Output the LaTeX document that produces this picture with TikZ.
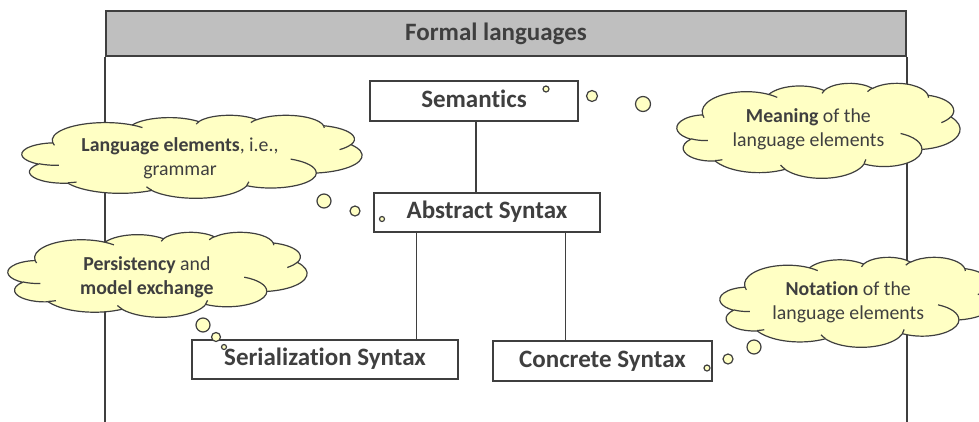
\documentclass[tikz,border=0pt]{standalone}
\usepackage{fontspec}
\setmainfont{Carlito}[Ligatures={NoCommon,NoDiscretionary}]
\definecolor{ink}{HTML}{3F3F3F}
\definecolor{thought}{HTML}{FFFFC4}
\definecolor{band}{HTML}{BFBFBF}

% parametric start angle and sweep of an elliptic arc given by visual angles
\newcommand\cloudangles[4]{%
  \pgfmathparse{atan2((#1)*sin(#3),(#2)*cos(#3))}\xdef\cloudts{\pgfmathresult}%
  \pgfmathparse{atan2((#1)*sin((#3)+(#4)),(#2)*cos((#3)+(#4)))}\xdef\cloudte{\pgfmathresult}%
  \pgfmathparse{\cloudte-\cloudts}\xdef\clouddl{\pgfmathresult}%
  \pgfmathparse{\clouddl+360*and(#4>0,\clouddl<0)-360*and(#4<0,\clouddl>0)}\xdef\clouddl{\pgfmathresult}%
}
% cloud with its inner creases, in a 432 x 432 unit frame stretched to w x h
\newcommand\drawcloud[4]{% left, top, width, height
  \pgfmathsetmacro\cloudsx{#3/432}%
  \pgfmathsetmacro\cloudsy{-#4/432}%
  \begin{scope}[shift={(#1,#2)}, x=\cloudsx pt, y=\cloudsy pt]
    \filldraw[cloudline, fill=thought] (39,143.7)
      \foreach \wr/\hr/\st/\sw in {67.53/91.90/-190.4875/123.7805,
        53.33/72.67/-144.1024/89.9452, 43.65/59.45/-145.8079/99.7230,
        48.57/65.95/-130.9861/117.2417, 53.33/72.73/-78.7089/109.0269,
        67.75/92.20/-46.2673/130.2690, 57.85/78.67/0.6250/114.0333,
        67.52/92.15/22.4516/115.1726, 77.20/105.43/66.2426/75.7110,
        43.60/59.18/-274.9421/146.7356, 43.45/59.45/-246.8285/152.5189}
      {\pgfextra{\cloudangles{\wr}{\hr}{\st}{\sw}}
       arc[start angle=\cloudts, delta angle=\clouddl, x radius=\wr, y radius=\hr]}
      -- cycle;
    \draw[cloudline]
      \foreach \px/\py/\wr/\hr/\st/\sw in {46.93/261.77/43.45/59.45/86.742/26.430,
        69.28/348.99/43.60/59.18/73.610/11.447,
        164.78/390.90/67.52/92.15/137.624/14.081,
        288.27/347.51/67.52/92.15/6.453/15.998,
        341.29/229.54/57.85/78.67/-70.292/70.917,
        417.98/153.54/53.33/72.73/30.318/27.752,
        383.24/54.26/48.57/65.95/-13.744/14.859,
        290.78/39.52/48.57/65.95/-149.181/18.195,
        221.41/47.20/43.65/59.45/-163.494/17.686,
        140.00/51.92/67.53/91.90/-66.707/12.319,
        41.27/157.89/67.53/91.90/157.654/11.858}
      {(\px,\py) \pgfextra{\cloudangles{\wr}{\hr}{\st}{\sw}}
       arc[start angle=\cloudts, delta angle=\clouddl, x radius=\wr, y radius=\hr]};
  \end{scope}}

\begin{document}
\begin{tikzpicture}[x=1pt,y=-1pt,
  concept/.style={draw=ink, line width=1.4pt, fill=white, inner sep=0pt,
    text=ink, text height=17pt, text depth=5pt,
    font=\fontsize{25}{30}\selectfont\bfseries},
  cloudline/.style={draw=ink, line width=1.2pt, line join=round},
  cloudtext/.style={text=ink, align=center, inner sep=0pt,
    font=\fontsize{19.8}{24}\selectfont},
  bubble/.style={circle, draw=ink, line width=1.2pt, fill=thought, inner sep=0pt},
  link/.style={draw=ink, line width=1.2pt}]

\useasboundingbox (0,0) rectangle (979,421);

% outer frame with title band
\node[draw=ink, line width=2pt, fill=band, minimum width=800pt, minimum height=45pt,
  anchor=north west, inner sep=0pt, text=ink,
  font=\fontsize{25}{30}\selectfont\bfseries] (title) at (105,10) {Formal languages\hspace*{20pt}};
\draw[ink, line width=2pt] (title.south west) -- ++(0,366);
\draw[ink, line width=2pt] (title.south east) -- ++(0,366);

% concept boxes
\node[concept, minimum width=208pt, minimum height=40pt] (sem) at (474,101) {Semantics};
\node[concept, minimum width=226pt, minimum height=39pt] (abs) at (487,212.5) {Abstract Syntax};
\node[concept, minimum width=266pt, minimum height=39pt] (ser) at (325,359.5) {Serialization Syntax};
\node[concept, minimum width=219pt, minimum height=40pt] (con) at (602.5,361) {Concrete Syntax};

% connectors
\draw[link] ([xshift=2pt]sem.south) -- ([xshift=2pt]sem.south |- abs.north);
\draw[link] ([xshift=43pt]abs.south west) -- ([xshift=43pt]abs.south west |- ser.north);
\draw[link] ([xshift=73pt]con.north west) -- ([xshift=73pt]con.north west |- abs.south);

% thought clouds
\drawcloud{22}{115}{340}{83}
\node[cloudtext] (c1) at (180,158.6) {\textbf{Language elements}, i.e.,\\grammar};
\drawcloud{677}{83}{283}{95}
\node[cloudtext] (c2) at (808.4,129.5) {\textbf{Meaning} of the\\language elements};
\drawcloud{8}{232}{299}{85}
\node[cloudtext] (c3) at (146.9,277) {\textbf{Persistency} and\\\textbf{model exchange}};
\drawcloud{720}{257}{276}{90}
\node[cloudtext] (c4) at (848.2,302.5) {\textbf{Notation} of the\\language elements};

% thought bubbles
\node[bubble, minimum size=14pt] (c1a) at (324,201) {};
\node[bubble, minimum size=10pt] (c1b) at (355,211) {};
\node[bubble, minimum size=5pt]  (c1c) at (382,219) {};

\node[bubble, minimum size=6pt]  (c2c) at (546,89) {};
\node[bubble, minimum size=11pt] (c2b) at (592,96) {};
\node[bubble, minimum size=15pt] (c2a) at (643,104) {};

\node[bubble, minimum size=14pt] (c3a) at (203,325) {};
\node[bubble, minimum size=9pt]  (c3b) at (216,337) {};
\node[bubble, minimum size=5pt]  (c3c) at (224,347) {};

\node[bubble, minimum size=14pt] (c4a) at (754,347) {};
\node[bubble, minimum size=10pt] (c4b) at (728,359) {};
\node[bubble, minimum size=6pt]  (c4c) at (707,368) {};
\end{tikzpicture}
\end{document}
